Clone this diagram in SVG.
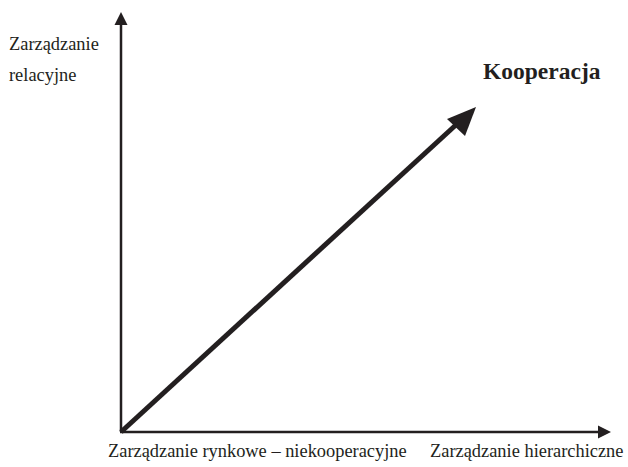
<svg xmlns="http://www.w3.org/2000/svg" width="628" height="467" viewBox="0 0 628 467">
  <style>
    .axis { stroke: #231f20; stroke-width: 2.5; fill: none; }
    .main { stroke: #231f20; stroke-width: 5; fill: none; }
    .head { fill: #231f20; }
    .lbl { font-family: "Liberation Serif", "Times New Roman", serif; font-size: 18.4px; fill: #231f20; }
    .title { font-family: "Liberation Serif", "Times New Roman", serif; font-size: 23.5px; font-weight: bold; fill: #231f20; }
  </style>
  <rect width="628" height="467" fill="#ffffff"/>
  <g id="connectors">
    <!-- vertical axis -->
    <line class="axis" x1="121" y1="432" x2="121" y2="22"/>
    <polygon class="head" points="121,12 114.5,25 127.5,25"/>
    <!-- horizontal axis -->
    <line class="axis" x1="120" y1="432" x2="600" y2="432"/>
    <polygon class="head" points="611,432 598,425.5 598,438.5"/>
    <!-- diagonal cooperation arrow -->
    <line class="main" x1="121" y1="432" x2="458" y2="123"/>
    <polygon class="head" points="476,107 447,119 465,136"/>
  </g>
  <g id="label-relacyjne">
    <text class="lbl" x="9" y="50">Zarządzanie</text>
    <text class="lbl" x="9" y="81">relacyjne</text>
  </g>
  <g id="label-kooperacja">
    <text class="title" x="483" y="79">Kooperacja</text>
  </g>
  <g id="label-rynkowe">
    <text class="lbl" x="108" y="457">Zarządzanie rynkowe – niekooperacyjne</text>
  </g>
  <g id="label-hierarchiczne">
    <text class="lbl" x="430" y="457">Zarządzanie hierarchiczne</text>
  </g>
</svg>
